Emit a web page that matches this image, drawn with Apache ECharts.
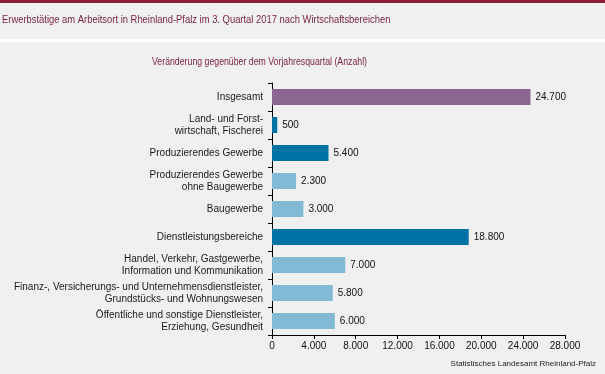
<!DOCTYPE html>
<html><head><meta charset="utf-8">
<script src="https://cdn.jsdelivr.net/npm/echarts@6/dist/echarts.min.js"></script>
<style>html,body{margin:0;padding:0;background:#eff0ef}#c{width:605px;height:374px}</style>
</head><body><div id="c"></div>
<script>
const categories = [
  "Insgesamt",
  "Land- und Forst-\nwirtschaft, Fischerei",
  "Produzierendes Gewerbe",
  "Produzierendes Gewerbe\nohne Baugewerbe",
  "Baugewerbe",
  "Dienstleistungsbereiche",
  "Handel, Verkehr, Gastgewerbe,\nInformation und Kommunikation",
  "Finanz-, Versicherungs- und Unternehmensdienstleister,\nGrundstücks- und Wohnungswesen",
  "Öffentliche und sonstige Dienstleister,\nErziehung, Gesundheit"
];
const values = [24700, 500, 5400, 2300, 3000, 18800, 7000, 5800, 6000];
const barColors = ["#8b6690","#0072a3","#0072a3","#82b9d5","#82b9d5","#0072a3","#82b9d5","#82b9d5","#82b9d5"];
const titleText = "Erwerbstätige am Arbeitsort in Rheinland-Pfalz im 3. Quartal 2017 nach Wirtschaftsbereichen";
const subtitleText = "Veränderung gegenüber dem Vorjahresquartal (Anzahl)";
const sourceText = "Statistisches Landesamt Rheinland-Pfalz";

const fmt = v => String(v).replace(/\B(?=(\d{3})+(?!\d))/g, ".");
const chart = echarts.init(document.getElementById('c'));
const font = "'Liberation Sans', Arial, sans-serif";
chart.setOption({
  backgroundColor: "#eff0ef",
  animation: false,
  graphic: [
    {type:'rect', shape:{x:0,y:0,width:605,height:3}, style:{fill:'#8b1e36'}},
    {type:'rect', shape:{x:0,y:39,width:605,height:3}, style:{fill:'#ffffff'}},
    {type:'text', x:2, y:14, scaleX:0.855, style:{text:titleText, fill:'#7a1f3d', font:"11px "+font}},
    {type:'text', x:152, y:57, scaleX:0.875, style:{text:subtitleText, fill:'#7a1f3d', font:"10px "+font}},
    {type:'text', right:9, top:360, style:{text:sourceText, fill:'#222', font:"8px "+font}}
  ],
  grid: {left:272, right:40, top:83, bottom:39, containLabel:false},
  xAxis: {
    type:'value', min:0, max:28000, interval:4000,
    axisLine:{show:true, lineStyle:{color:'#000', width:1}},
    axisTick:{show:true, length:4, lineStyle:{color:'#000'}},
    splitLine:{show:false},
    axisLabel:{color:'#111', fontSize:10, fontFamily:font, formatter:fmt, margin:6}
  },
  yAxis: {
    type:'category', data:categories, inverse:true,
    axisLine:{show:true, lineStyle:{color:'#000', width:1}},
    axisTick:{show:true, length:4, inside:false, lineStyle:{color:'#000'}},
    axisLabel:{color:'#1a1a1a', fontSize:10, fontFamily:font, margin:9, align:'right', lineHeight:12}
  },
  series: [{
    type:'bar', barWidth:16,
    data: values.map((v,i)=>({value:v, itemStyle:{color:barColors[i]}})),
    label:{show:true, position:'right', distance:5, color:'#111', fontSize:10, fontFamily:font,
      formatter:p=>fmt(p.value)}
  }]
});
</script></body></html>
